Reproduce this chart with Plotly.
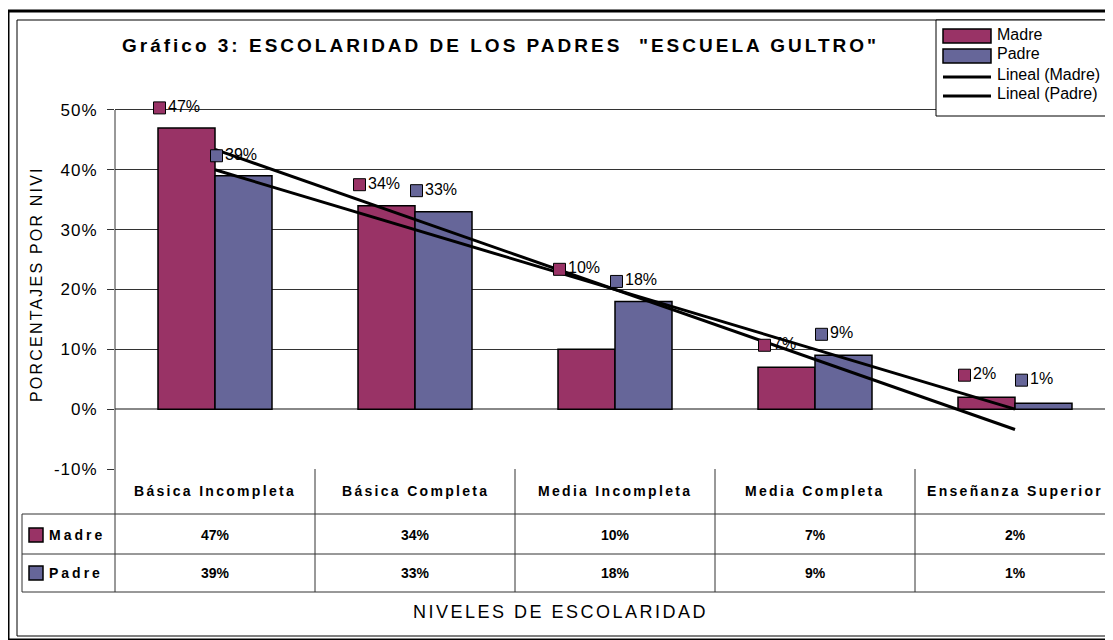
import numpy as np
import plotly.graph_objects as go

categorias = ["Básica Incompleta", "Básica Completa", "Media Incompleta",
              "Media Completa", "Enseñanza Superior"]
madre = [0.47, 0.34, 0.10, 0.07, 0.02]
padre = [0.39, 0.33, 0.18, 0.09, 0.01]
y_ticks = [-0.1, 0, 0.1, 0.2, 0.3, 0.4, 0.5]

COLOR_MADRE = "#993366"
COLOR_PADRE = "#666699"
FONT = "Arial, Liberation Sans, sans-serif"

# screen coordinates (the page puts the figure 8px in from the top-left corner)
OFF = 8
SW, SH = 1113, 640
L, T, B = 115, 92, 469       # plot area edges on screen
Y_MIN, Y_MAX = -0.1, 0.53
CAT_PX = 200                 # pixels per category

def px(X):
    return (X - L) / (SW - L)

def py(Y):
    return (B - Y) / (B - T)

def spaced(text, sp):
    return f'<span style="letter-spacing:{sp}px">{text}</span>'

xs = np.arange(len(categorias))
fig = go.Figure()

# bars
for nombre, vals, color in [("Madre", madre, COLOR_MADRE), ("Padre", padre, COLOR_PADRE)]:
    fig.add_trace(go.Bar(x=xs, y=vals, name=nombre, marker_color=color,
                         marker_line=dict(color="black", width=1.5)))

# linear trendlines
for vals in (madre, padre):
    m, b = np.polyfit(xs, vals, 1)
    fig.add_trace(go.Scatter(x=xs, y=m * xs + b, mode="lines",
                             line=dict(color="black", width=3), hoverinfo="skip"))

# data labels with legend key
upp = (Y_MAX - Y_MIN) / (B - T)      # y units per pixel
bar_off = 0.1425
lift = {"Madre": [20, 21, 80, 22, 22], "Padre": [20, 21, 20, 21, 23]}
for nombre, vals, color, off in [("Madre", madre, COLOR_MADRE, -bar_off),
                                 ("Padre", padre, COLOR_PADRE, bar_off)]:
    lx = [i + off + (-27 if v >= 0.1 else -22) / CAT_PX for i, v in zip(xs, vals)]
    ly = [v + d * upp for v, d in zip(vals, lift[nombre])]
    fig.add_trace(go.Scatter(x=lx, y=ly, mode="markers+text",
                             text=[f"{v:.0%}" for v in vals], textposition="middle right",
                             textfont=dict(size=16, color="black", family=FONT),
                             marker=dict(symbol="square", size=12, color=color,
                                         line=dict(color="black", width=1)),
                             cliponaxis=False, hoverinfo="skip"))

shapes = []
ann = []

def text(X, Y, s, size, xanchor="center", angle=0):
    ann.append(dict(xref="paper", yref="paper", x=px(X), y=py(Y), text=s, textangle=angle,
                    xanchor=xanchor, yanchor="middle", showarrow=False,
                    font=dict(size=size, color="black", family=FONT)))

def hline(x0, x1, Y, color="#333", w=1):
    shapes.append(dict(type="line", xref="paper", yref="paper", x0=px(x0), x1=px(x1),
                       y0=py(Y), y1=py(Y), line=dict(color=color, width=w)))

def vline(X, y0, y1, color="#333", w=1):
    shapes.append(dict(type="line", xref="paper", yref="paper", x0=px(X), x1=px(X),
                       y0=py(y0), y1=py(y1), line=dict(color=color, width=w)))

def box(x0, y0, x1, y1, fill=None, w=1):
    shapes.append(dict(type="rect", xref="paper", yref="paper", x0=px(x0), x1=px(x1),
                       y0=py(y0), y1=py(y1), fillcolor=fill,
                       line=dict(color="black", width=w)))

# chart borders
box(8, 11, SW + 20, 640, w=3)
box(17, 20, SW + 20, 636, w=1)

# y axis line through the data table
vline(L, 110, 592)
# data table grid
for i in xs[:-1]:
    shapes.append(dict(type="line", xref="x", yref="paper", x0=i + 0.5, x1=i + 0.5,
                       y0=py(B), y1=py(592), line=dict(color="#333", width=1)))
for Y in (514, 554, 592):
    hline(22, SW + 20, Y)
vline(22, 514, 592)

for i, c in enumerate(categorias):
    ann.append(dict(xref="x", yref="paper", x=i, y=py(491), text=spaced(f"<b>{c}</b>", 2.3),
                    xanchor="center", yanchor="middle", showarrow=False,
                    font=dict(size=14, color="black", family=FONT)))
for vals, Y in ((madre, 535), (padre, 573)):
    for i, v in enumerate(vals):
        ann.append(dict(xref="x", yref="paper", x=i, y=py(Y), text=f"<b>{v:.0%}</b>",
                        xanchor="center", yanchor="middle", showarrow=False,
                        font=dict(size=14, color="black", family=FONT)))
for nombre, color, Y in (("Madre", COLOR_MADRE, 535), ("Padre", COLOR_PADRE, 573)):
    box(29, Y - 7, 43, Y + 7, fill=color, w=1.5)
    text(47, Y, spaced(f"<b>{nombre}</b>", 3), 14, xanchor="left")

# legend box
box(936, 20, SW + 20, 116, fill="white", w=1)
for nombre, color, Y in (("Madre", COLOR_MADRE, 36), ("Padre", COLOR_PADRE, 56)):
    box(943, Y - 7, 991, Y + 7, fill=color, w=1.5)
    text(995, Y - 2, nombre, 16, xanchor="left")
for nombre, Y in (("Lineal (Madre)", 77), ("Lineal (Padre)", 96)):
    hline(943, 991, Y, color="black", w=3)
    text(995, Y - 3, nombre, 16, xanchor="left")

# title and axis titles
text(500, 45, spaced('<b>Gráfico 3: ESCOLARIDAD DE LOS PADRES  "ESCUELA GULTRO"</b>', 3), 19)
text(36, 284, spaced("PORCENTAJES POR NIVI", 2.2), 16, angle=-90)
text(560, 612, spaced("NIVELES DE ESCOLARIDAD", 2.5), 18)

fig.update_layout(
    width=SW - OFF, height=SH - OFF,
    margin=dict(l=L - OFF, r=0, t=T - OFF, b=SH - B),
    plot_bgcolor="white", paper_bgcolor="white",
    barmode="group", bargap=0.43, bargroupgap=0,
    showlegend=False,
    shapes=shapes, annotations=ann,
    font=dict(family=FONT, color="black"),
)
fig.update_xaxes(range=[-0.5, -0.5 + (SW - L) / CAT_PX], showticklabels=False,
                 showgrid=False, zeroline=False, showline=False)
fig.update_yaxes(range=[Y_MIN, Y_MAX], tickvals=y_ticks,
                 ticktext=[spaced(f"{v:.0%}", 1) for v in y_ticks],
                 showgrid=True, gridcolor="#333", gridwidth=1,
                 zeroline=True, zerolinecolor="#888", zerolinewidth=2,
                 ticks="outside", ticklen=7, tickcolor="#333", ticklabelstandoff=6,
                 tickfont=dict(size=17, color="black", family=FONT), showline=False)

fig.write_html("out.html")
